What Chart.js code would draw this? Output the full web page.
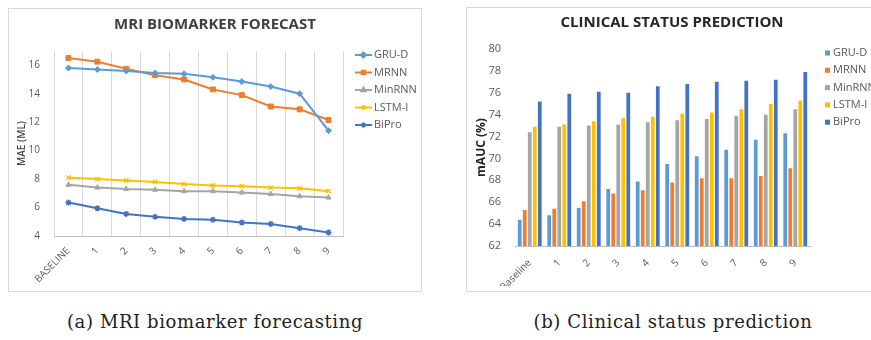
<!DOCTYPE html>
<html>
<head>
<meta charset="utf-8">
<script src="https://cdn.jsdelivr.net/npm/chart.js@4.4.1/dist/chart.umd.min.js"></script>
<style>
body { margin:0; background:#fff; width:871px; height:340px; overflow:hidden; position:relative; }
.frame { position:absolute; border:1px solid #d9d9d9; box-sizing:border-box; }
#frameA { left:8px; top:8px; width:414px; height:284px; }
#frameB { left:466px; top:7px; width:420px; height:285px; }
canvas { position:absolute; }
#mriChart { left:8px; top:8px; }
#clinChart { left:466px; top:7px; }
.cap { position:absolute; top:312px; width:430px; text-align:center; line-height:20px;
       font-family:"DejaVu Serif", serif; font-size:18px; letter-spacing:0.6px; color:#222; }
</style>
</head>
<body>
<div class="frame" id="frameA"></div>
<div class="frame" id="frameB"></div>
<canvas id="mriChart" width="414" height="283"></canvas>
<canvas id="clinChart" width="405" height="284"></canvas>
<div class="cap" style="left:0px">(a) MRI biomarker forecasting</div>
<div class="cap" style="left:458px">(b) Clinical status prediction</div>

<script>
// forecast steps
var mriSteps = ["BASELINE", "1", "2", "3", "4", "5", "6", "7", "8", "9"];
var clinSteps = ["Baseline", "1", "2", "3", "4", "5", "6", "7", "8", "9"];

// MAE (ML) per model
var gruMae   = [15.8, 15.7, 15.6, 15.45, 15.4, 15.15, 14.85, 14.5, 14.0, 11.4];
var mrnnMae  = [16.5, 16.25, 15.75, 15.3, 15.0, 14.3, 13.9, 13.1, 12.9, 12.15];
var minMae   = [7.6, 7.4, 7.3, 7.25, 7.15, 7.15, 7.05, 6.95, 6.8, 6.7];
var lstmMae  = [8.1, 8.0, 7.9, 7.8, 7.65, 7.55, 7.5, 7.4, 7.35, 7.15];
var biproMae = [6.35, 5.95, 5.55, 5.35, 5.2, 5.15, 4.95, 4.85, 4.55, 4.25];

// mAUC (%) per model
var gruAuc   = [64.4, 64.8, 65.5, 67.2, 67.9, 69.5, 70.2, 70.8, 71.7, 72.3];
var mrnnAuc  = [65.3, 65.4, 66.1, 66.8, 67.1, 67.8, 68.2, 68.2, 68.4, 69.1];
var minAuc   = [72.4, 72.9, 73.0, 73.1, 73.3, 73.5, 73.6, 73.9, 74.0, 74.5];
var lstmAuc  = [72.9, 73.1, 73.4, 73.7, 73.8, 74.1, 74.2, 74.5, 75.0, 75.3];
var biproAuc = [75.2, 75.9, 76.1, 76.0, 76.6, 76.8, 77.0, 77.1, 77.2, 77.9];

var modelNames = ["GRU-D", "MRNN", "MinRNN", "LSTM-I", "BiPro"];
var colors = ["#5B9BD5", "#ED7D31", "#A5A5A5", "#FFC000", "#4472C4"];
var markers = ["rectRot", "rect", "triangle", "crossRot", "star"];

var textColor = "#595959";
var font = "'Open Sans', sans-serif";

// title centred on the whole frame + legend on the right side, excel style
var sideLegend = {
    id: "sideLegend",
    afterDraw: function (chart, args, opts) {
        var ctx = chart.ctx;
        ctx.save();
        ctx.fillStyle = opts.titleColor;
        ctx.font = "bold 15px " + font;
        ctx.textAlign = "center";
        ctx.textBaseline = "middle";
        ctx.fillText(opts.title, opts.titleX, opts.titleY);
        ctx.restore();

        chart.data.datasets.forEach(function (ds, i) {
            var y = opts.y + i * opts.gap;
            ctx.save();
            ctx.strokeStyle = ds.borderColor;
            ctx.fillStyle = ds.backgroundColor;
            if (opts.kind == "line") {
                ctx.lineWidth = 2;
                ctx.beginPath();
                ctx.moveTo(opts.x, y);
                ctx.lineTo(opts.x + 17, y);
                ctx.stroke();
                Chart.helpers.drawPoint(ctx, { pointStyle: ds.pointStyle, radius: 2.5, borderWidth: 1, rotation: 0 }, opts.x + 8.5, y);
            } else {
                ctx.fillRect(opts.x, y - 2.5, 5, 5);
            }
            ctx.fillStyle = textColor;
            ctx.font = "11px " + font;
            ctx.textBaseline = "middle";
            ctx.fillText(ds.label, opts.x + opts.textOffset, y);
            ctx.restore();
        });
    }
};

var lineSets = [gruMae, mrnnMae, minMae, lstmMae, biproMae].map(function (d, i) {
    return {
        label: modelNames[i],
        data: d,
        borderColor: colors[i],
        backgroundColor: colors[i],
        borderWidth: 2,
        pointStyle: markers[i],
        pointRadius: i == 1 ? 3.5 : 3,
        pointBorderWidth: (i == 3 || i == 4) ? 1.5 : 1,
        tension: 0
    };
});

new Chart(document.getElementById("mriChart"), {
    type: "line",
    data: { labels: mriSteps, datasets: lineSets },
    plugins: [sideLegend],
    options: {
        responsive: false,
        animation: false,
        layout: { padding: { left: 8, right: 79, top: 43, bottom: 5 } },
        plugins: {
            legend: { display: false },
            tooltip: { enabled: false },
            title: { display: false },
            sideLegend: {
                title: "MRI BIOMARKER FORECAST", titleColor: "#404040", titleX: 207, titleY: 17,
                kind: "line", x: 347, y: 47, gap: 17.5, textOffset: 19
            }
        },
        scales: {
            x: {
                offset: true,
                grid: { color: "#d9d9d9", offset: true, drawTicks: false },
                border: { color: "#bfbfbf" },
                ticks: { color: textColor, font: { family: font, size: 10 }, minRotation: 45, maxRotation: 45, padding: 9 },
                afterFit: function (s) { s.height = 50; }
            },
            y: {
                min: 4,
                max: 17,
                grid: { display: false },
                border: { display: false },
                ticks: { stepSize: 2, color: textColor, font: { family: font, size: 10 }, padding: 6 },
                afterBuildTicks: function (s) { s.ticks = s.ticks.filter(function (t) { return t.value % 2 == 0; }); },
                title: { display: true, text: "MAE (ML)", color: "#404040", font: { family: font, size: 10, weight: "600" }, padding: 0 },
                afterFit: function (s) { s.width = 38; }
            }
        }
    }
});

var barSets = [gruAuc, mrnnAuc, minAuc, lstmAuc, biproAuc].map(function (d, i) {
    return {
        label: modelNames[i],
        data: d,
        backgroundColor: colors[i],
        borderColor: colors[i],
        categoryPercentage: 0.85,
        barPercentage: 0.75
    };
});

new Chart(document.getElementById("clinChart"), {
    type: "bar",
    data: { labels: clinSteps, datasets: barSets },
    plugins: [sideLegend],
    options: {
        responsive: false,
        animation: false,
        layout: { padding: { left: 8, right: 61, top: 42, bottom: 5 } },
        plugins: {
            legend: { display: false },
            tooltip: { enabled: false },
            title: { display: false },
            sideLegend: {
                title: "CLINICAL STATUS PREDICTION", titleColor: "#262626", titleX: 206, titleY: 16,
                kind: "box", x: 359, y: 46, gap: 17.3, textOffset: 8
            }
        },
        scales: {
            x: {
                grid: { display: false },
                border: { color: "#bfbfbf" },
                ticks: { color: textColor, font: { family: font, size: 10 }, minRotation: 45, maxRotation: 45, padding: 3 },
                afterFit: function (s) { s.height = 40; }
            },
            y: {
                min: 62,
                max: 80,
                grid: { display: false },
                border: { display: false },
                ticks: { stepSize: 2, color: textColor, font: { family: font, size: 11 }, padding: 6 },
                title: { display: true, text: "mAUC (%)", color: "#262626", font: { family: font, size: 12, weight: "bold" }, padding: 0 },
                afterFit: function (s) { s.width = 41; }
            }
        }
    }
});
</script>
</body>
</html>
